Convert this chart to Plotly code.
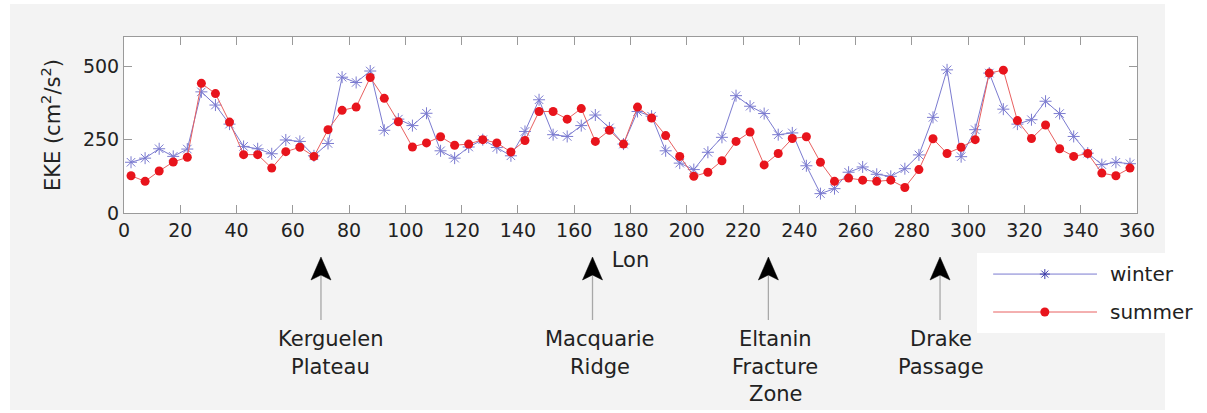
import plotly.graph_objects as go

# ---------------- data ----------------
lon = [2.5, 7.5, 12.5, 17.5, 22.5, 27.5, 32.5, 37.5, 42.5, 47.5, 52.5, 57.5,
       62.5, 67.5, 72.5, 77.5, 82.5, 87.5, 92.5, 97.5, 102.5, 107.5, 112.5, 117.5,
       122.5, 127.5, 132.5, 137.5, 142.5, 147.5, 152.5, 157.5, 162.5, 167.5, 172.5, 177.5,
       182.5, 187.5, 192.5, 197.5, 202.5, 207.5, 212.5, 217.5, 222.5, 227.5, 232.5, 237.5,
       242.5, 247.5, 252.5, 257.5, 262.5, 267.5, 272.5, 277.5, 282.5, 287.5, 292.5, 297.5,
       302.5, 307.5, 312.5, 317.5, 322.5, 327.5, 332.5, 337.5, 342.5, 347.5, 352.5, 357.5]

winter = [173, 187, 219, 193, 218, 413, 368, 303, 227, 219, 202, 249,
          244, 195, 237, 463, 445, 484, 282, 320, 298, 340, 212, 187,
          225, 250, 223, 195, 278, 386, 267, 261, 298, 334, 290, 235,
          346, 330, 212, 170, 148, 207, 258, 400, 364, 339, 267, 273,
          161, 66, 83, 139, 157, 132, 125, 151, 198, 326, 488, 192,
          284, 477, 354, 303, 318, 381, 339, 261, 204, 165, 173, 168]

summer = [127, 108, 143, 174, 190, 442, 407, 310, 199, 199, 153, 209,
          224, 193, 284, 350, 361, 462, 391, 311, 225, 239, 260, 231,
          235, 250, 239, 208, 247, 346, 346, 320, 356, 244, 282, 235,
          361, 324, 264, 193, 125, 139, 178, 244, 276, 164, 203, 254,
          260, 173, 108, 119, 112, 108, 112, 87, 148, 253, 203, 224,
          250, 477, 487, 315, 254, 300, 219, 193, 203, 136, 127, 153]

series_names = ["winter", "summer"]
x_ticks = [0, 20, 40, 60, 80, 100, 120, 140, 160, 180, 200, 220, 240, 260, 280, 300, 320, 340, 360]
y_ticks = [0, 250, 500]

features = [["Kerguelen", "Plateau"], ["Macquarie", "Ridge"],
            ["Eltanin", "Fracture", "Zone"], ["Drake", "Passage"]]
feature_lon = [70, 166.5, 229, 290]
feature_text_lon = [73.5, 169, 231.5, 290.5]

# ---------------- styling ----------------
FONT = "DejaVu Sans"
W_LINE = "#7b7bd0"
W_MARK = "#3c3ca8"
S_LINE = "#e86060"
S_MARK = "#e8141c"
FRAME = "#9a9a9a"
GREY_BG = "#f3f3f3"

PLOT_W_PX, PLOT_H_PX = 1013, 176     # plot area size in pixels
PX = 1.0 / PLOT_W_PX                 # one pixel in paper-x units
PY = 1.0 / PLOT_H_PX                 # one pixel in paper-y units
LON_PX = 360.0 / PLOT_W_PX           # one pixel in data-x units

fig = go.Figure()

fig.add_trace(go.Scatter(
    x=lon, y=winter, name=series_names[0], mode="lines+markers",
    line=dict(color=W_LINE, width=1),
    marker=dict(symbol="asterisk-open", size=10, line=dict(color=W_MARK, width=1)),
    showlegend=False))
fig.add_trace(go.Scatter(
    x=lon, y=summer, name=series_names[1], mode="lines+markers",
    line=dict(color=S_LINE, width=1),
    marker=dict(symbol="circle", size=9, color=S_MARK, line=dict(width=0)),
    showlegend=False))

shapes = [
    # grey page background
    dict(type="rect", xref="paper", yref="paper", x0=-0.1125, x1=1.0277, y0=-1.119, y1=1.1875,
         fillcolor=GREY_BG, line=dict(width=0), layer="below"),
    # white plot area
    dict(type="rect", xref="paper", yref="paper", x0=0, x1=1, y0=0, y1=1,
         fillcolor="white", line=dict(width=0), layer="below"),
    # white legend box
    dict(type="rect", xref="paper", yref="paper", x0=0.842, x1=1.08, y0=-0.682, y1=-0.227,
         fillcolor="white", line=dict(width=0), layer="below"),
]

# ---- manual legend (long sample lines as in reference) ----
leg_y = [-0.347, -0.5625]
leg_x0, leg_xm, leg_x1, leg_xt = 0.858, 0.909, 0.9605, 0.971
for yy, col in zip(leg_y, [W_LINE, S_LINE]):
    shapes.append(dict(type="line", xref="paper", yref="paper", x0=leg_x0, x1=leg_x1, y0=yy, y1=yy,
                       line=dict(color=col, width=1)))
# winter legend asterisk
a, d = 5, 3.5
cx, cy = leg_xm, leg_y[0]
ast = (f"M{cx - a*PX},{cy} L{cx + a*PX},{cy} "
       f"M{cx},{cy - a*PY} L{cx},{cy + a*PY} "
       f"M{cx - d*PX},{cy - d*PY} L{cx + d*PX},{cy + d*PY} "
       f"M{cx - d*PX},{cy + d*PY} L{cx + d*PX},{cy - d*PY}")
shapes.append(dict(type="path", xref="paper", yref="paper", path=ast,
                   line=dict(color=W_MARK, width=1)))
# summer legend dot
r = 4.5
shapes.append(dict(type="circle", xref="paper", yref="paper",
                   x0=leg_xm - r*PX, x1=leg_xm + r*PX, y0=leg_y[1] - r*PY, y1=leg_y[1] + r*PY,
                   fillcolor=S_MARK, line=dict(width=0)))

annotations = []
for name, yy in zip(series_names, leg_y):
    annotations.append(dict(text=name, xref="paper", yref="paper", x=leg_xt, y=yy,
                            xanchor="left", yanchor="middle", showarrow=False,
                            font=dict(family=FONT, size=20, color="#222")))

# ---- feature arrows ----
tip_y = -0.25
tail_y = -0.608
head_len, notch, half_w = 23, 18, 10
first_line_px, line_step_px = 339, 27.5
for lines, lx, tx in zip(features, feature_lon, feature_text_lon):
    shapes.append(dict(type="line", xref="x", yref="paper", x0=lx, x1=lx,
                       y0=tail_y, y1=tip_y - notch*PY,
                       line=dict(color="#a8a8a8", width=1.3)))
    head = (f"M{lx},{tip_y} L{lx - half_w*LON_PX},{tip_y - head_len*PY} "
            f"L{lx},{tip_y - notch*PY} L{lx + half_w*LON_PX},{tip_y - head_len*PY} Z")
    shapes.append(dict(type="path", xref="x", yref="paper", path=head,
                       fillcolor="black", line=dict(color="black", width=0.5)))
    for i, txt in enumerate(lines):
        ypx = first_line_px + i * line_step_px
        annotations.append(dict(text=txt, xref="x", yref="paper", x=tx,
                                y=(PLOT_H_PX + 37 - ypx) * PY,
                                xanchor="center", yanchor="middle", showarrow=False,
                                font=dict(family=FONT, size=21, color="#222")))

fig.update_layout(
    width=1207, height=413,
    margin=dict(l=124, r=70, t=37, b=200),
    paper_bgcolor="white", plot_bgcolor="white",
    font=dict(family=FONT, size=19, color="#222"),
    shapes=shapes, annotations=annotations,
    xaxis=dict(range=[0, 360], tickvals=x_ticks, ticks="inside", ticklen=8,
               tickcolor=FRAME, showline=True, linecolor=FRAME, linewidth=1, mirror="ticks",
               showgrid=False, zeroline=False,
               tickfont=dict(family=FONT, size=19, color="#222"),
               title=dict(text="Lon", standoff=12, font=dict(family=FONT, size=21, color="#222"))),
    yaxis=dict(range=[0, 600], tickvals=y_ticks, ticks="inside", ticklen=8,
               tickcolor=FRAME, showline=True, linecolor=FRAME, linewidth=1, mirror="ticks",
               showgrid=False, zeroline=False,
               tickfont=dict(family=FONT, size=19, color="#222"),
               title=dict(text="EKE (cm<sup>2</sup>/s<sup>2</sup>)", standoff=16,
                          font=dict(family=FONT, size=21, color="#222"))),
)

fig.write_html("out.html")
